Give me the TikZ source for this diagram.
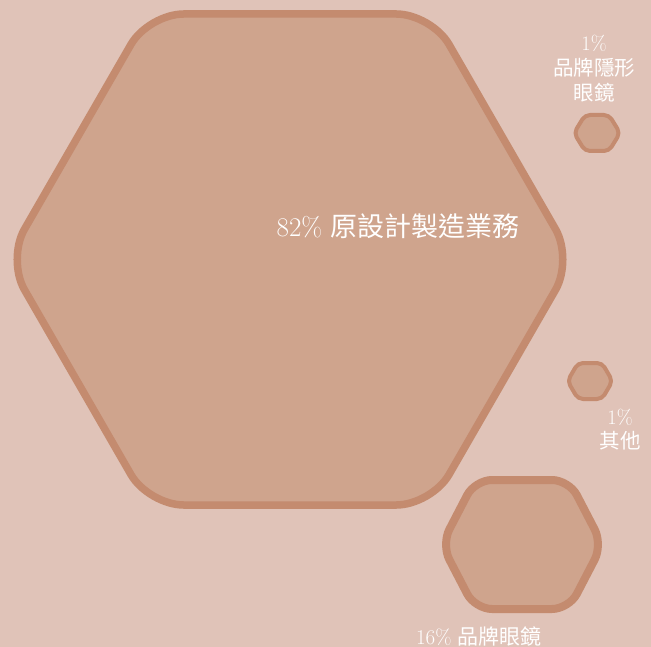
\documentclass[tikz,border=0pt]{standalone}
\usepackage{fontspec}
\newfontfamily\cjk{Noto Sans CJK TC}
\definecolor{bg}{RGB}{224,195,184}
\definecolor{hexfill}{RGB}{207,164,141}
\definecolor{hexline}{RGB}{196,139,111}
\tikzset{
  hexshape/.style={fill=hexfill, draw=hexline, line join=round},
  lbl/.style={text=white, inner sep=0pt, align=center},
}
% cx cy a b h d
\newcommand\myhexagon[7]{%
  \path[hexshape, line width=#7, rounded corners=#6]
    (#1,#2-#5) -- (#1+#4,#2-#5) -- (#1+#3,#2) -- (#1+#4,#2+#5)
    -- (#1-#4,#2+#5) -- (#1-#3,#2) -- (#1-#4,#2-#5) -- cycle;}
\begin{document}
\begin{tikzpicture}[x=1pt,y=-1pt]
\fill[bg] (0,0) rectangle (651,647);
\useasboundingbox (0,0) rectangle (651,647);
% big hexagon
\myhexagon{290}{259.5}{283}{141.5}{245.5}{35}{7.5pt}
% medium hexagon
\myhexagon{522}{544.5}{80.5}{47}{64.5}{17}{8pt}
% small hexagons
\myhexagon{597}{133}{23}{12}{18}{5}{4pt}
\myhexagon{590}{381}{22.5}{12}{18}{5}{4pt}
% labels
\node[lbl, font=\fontsize{27}{31}\selectfont] (odm) at (398,226) {82\% {\cjk 原設計製造業務}};
\node[lbl, font=\fontsize{20.5}{25}\selectfont] (contact) at (594,69) {1\%\\{\cjk 品牌隱形}\\{\cjk 眼鏡}};
\node[lbl, font=\fontsize{20.5}{24}\selectfont] (other) at (620,430) {1\%\\{\cjk 其他}};
\node[lbl, font=\fontsize{21}{24}\selectfont] (brand) at (479,636) {16\% {\cjk 品牌眼鏡}};
\end{tikzpicture}
\end{document}
